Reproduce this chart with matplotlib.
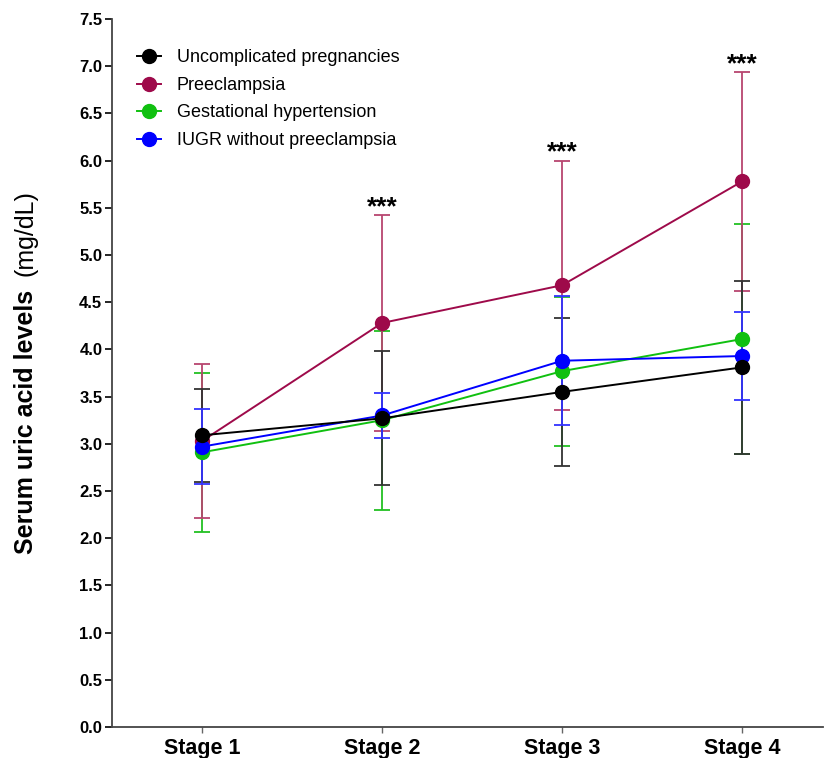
import matplotlib
matplotlib.use('Agg')
from matplotlib import pyplot as plt

# データ
stages = ['Stage 1', 'Stage 2', 'Stage 3', 'Stage 4']
groups = ['Uncomplicated pregnancies', 'Preeclampsia',
          'Gestational hypertension', 'IUGR without preeclampsia']

mean_uncomp = [3.09, 3.27, 3.55, 3.81]
sd_uncomp = [0.49, 0.71, 0.78, 0.92]
mean_pe = [3.03, 4.28, 4.68, 5.78]
sd_pe = [0.82, 1.14, 1.32, 1.16]
mean_gh = [2.91, 3.25, 3.77, 4.11]
sd_gh = [0.84, 0.95, 0.79, 1.22]
mean_iugr = [2.97, 3.30, 3.88, 3.93]
sd_iugr = [0.40, 0.24, 0.685, 0.47]

stars = ['', '***', '***', '***']

colors = ['black', '#9e0a4a', '#10c010', '#0000ff']
err_colors = ['#333333', '#b8456f', '#22c022', '#3333ff']

plt.rcParams['font.family'] = ['Liberation Sans', 'DejaVu Sans']

fig = plt.figure(figsize=(8.25, 7.58), dpi=100)
ax = fig.add_axes([0.1358, 0.0409, 0.862, 0.934])

x = [1, 2, 3, 4]
means = [mean_uncomp, mean_pe, mean_gh, mean_iugr]
sds = [sd_uncomp, sd_pe, sd_gh, sd_iugr]

# エラーバー (描く順番: 緑, 赤, 黒, 青)
z_err = {2: 1, 1: 2, 0: 3, 3: 4}
for i in range(4):
    ax.errorbar(x, means[i], yerr=sds[i], fmt='none', ecolor=err_colors[i],
                elinewidth=1.3, capsize=6, capthick=1.3, zorder=z_err[i])

# 折れ線とマーカー
z_line = {1: 5, 2: 6, 3: 7, 0: 8}
for i in range(4):
    ax.plot(x, means[i], color=colors[i], lw=1.4, marker='o', ms=10,
            label=groups[i], zorder=z_line[i])

# 有意差の印
for k in range(4):
    if stars[k]:
        ax.annotate(stars[k], (x[k], mean_pe[k] + sd_pe[k]), xytext=(0, -3),
                    textcoords='offset points', ha='center', va='bottom',
                    fontsize=19, fontweight='bold')

# 見た目を整える
ax.set_xlim(0.5, 4.45)
ax.set_ylim(0, 7.5)
ax.set_yticks([i * 0.5 for i in range(16)])
ax.set_yticklabels(['%.1f' % (i * 0.5) for i in range(16)],
                   fontsize=12, fontweight='bold')
ax.set_xticks(x)
ax.set_xticklabels(stages, fontsize=15.5, fontweight='bold')
ax.tick_params(axis='x', length=4, width=1, direction='out', pad=4,
               color='#666666')
ax.tick_params(axis='y', length=5, width=1.2, direction='out', pad=2)
for s in ['top', 'right']:
    ax.spines[s].set_visible(False)
for s in ['left', 'bottom']:
    ax.spines[s].set_linewidth(1.3)
    ax.spines[s].set_color('#444444')

ax.legend(loc='upper left', bbox_to_anchor=(0.012, 0.98), frameon=False,
          fontsize=13, handlelength=1.35, handletextpad=0.85, labelspacing=0.58)

# y 軸ラベル (太字部分と単位)
fig.text(0.031, 0.4433, 'Serum uric acid levels', rotation=90, ha='center',
         va='center', fontsize=18, fontweight='bold')
fig.text(0.031, 0.6926, '(mg/dL)', rotation=90, ha='center', va='center',
         fontsize=18)

fig.savefig('out.png', dpi=100)
